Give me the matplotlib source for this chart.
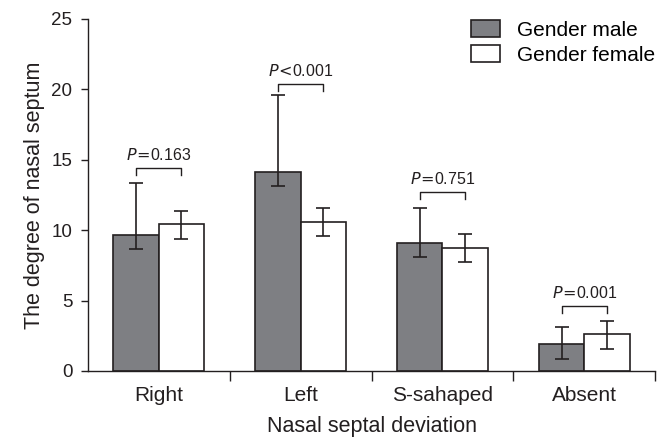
import matplotlib.pyplot as plt
import numpy as np

plt.rcParams['font.family'] = ['Liberation Sans', 'DejaVu Sans']

categories = ["Right", "Left", "S-sahaped", "Absent"]
male_mean = [9.66, 14.13, 9.09, 1.92]
male_low = [8.66, 13.14, 8.10, 0.85]
male_high = [13.35, 19.60, 11.58, 3.13]
female_mean = [10.44, 10.60, 8.73, 2.63]
female_low = [9.37, 9.60, 7.74, 1.56]
female_high = [11.36, 11.60, 9.73, 3.55]
p_labels = ["0.163", "<0.001", "0.751", "0.001"]
bracket_y = [14.4, 20.4, 12.7, 4.6]

edge = '#231f20'
x = np.arange(len(categories))
w = 0.32

fig = plt.figure(figsize=(6.7, 4.38), dpi=100)
ax = fig.add_axes([0.131, 0.153, 0.847, 0.804])

m_err = [np.array(male_mean) - np.array(male_low), np.array(male_high) - np.array(male_mean)]
f_err = [np.array(female_mean) - np.array(female_low), np.array(female_high) - np.array(female_mean)]

ax.bar(x - w / 2, male_mean, w, color='#7e7f83', edgecolor=edge, linewidth=1.2,
       label='Gender male', zorder=2)
ax.bar(x + w / 2, female_mean, w, color='white', edgecolor=edge, linewidth=1.2,
       label='Gender female', zorder=2)
ax.errorbar(x - w / 2, male_mean, yerr=m_err, fmt='none', ecolor=edge, elinewidth=1.2,
            capsize=5, capthick=1.2, zorder=3)
ax.errorbar(x + w / 2, female_mean, yerr=f_err, fmt='none', ecolor=edge, elinewidth=1.2,
            capsize=5, capthick=1.2, zorder=3)

# significance brackets
for i in range(len(categories)):
    y = bracket_y[i]
    ax.plot([x[i] - w / 2, x[i] - w / 2, x[i] + w / 2, x[i] + w / 2],
            [y - 0.5, y, y, y - 0.5], color=edge, linewidth=1.0)
    lab = p_labels[i]
    if lab.startswith("<"):
        txt = r"$\mathit{P}\!<\!$" + lab[1:]
    else:
        txt = r"$\mathit{P}\!=\!$" + lab
    ax.text(x[i], y + 0.35, txt, ha='center', va='bottom', fontsize=11.5, color=edge)

ax.set_xlim(-0.5, 3.5)
ax.set_ylim(0, 25)
ax.set_yticks([0, 5, 10, 15, 20, 25])
ax.set_xticks(x)
ax.set_xticklabels(categories)
ax.set_xticks(np.arange(0.5, 3.6, 1), minor=True)
ax.tick_params(axis='x', which='major', length=0, labelsize=15, pad=11, colors=edge)
ax.tick_params(axis='x', which='minor', length=7, width=1.0, color=edge)
ax.tick_params(axis='y', length=5, width=1.0, labelsize=13.5, pad=6, color=edge, labelcolor=edge)
for s in ['top', 'right']:
    ax.spines[s].set_visible(False)
for s in ['left', 'bottom']:
    ax.spines[s].set_color(edge)
    ax.spines[s].set_linewidth(1.0)

ax.set_xlabel("Nasal septal deviation", fontsize=15.5, color=edge, labelpad=7.5)
ax.set_ylabel("The degree of nasal septum", fontsize=15.5, color=edge, labelpad=5)

ax.legend(loc='upper right', bbox_to_anchor=(1.032, 1.05), frameon=False, fontsize=15,
          handlelength=1.4, handleheight=0.9, handletextpad=0.8, labelspacing=0.25)

fig.savefig("out.png", dpi=100)
